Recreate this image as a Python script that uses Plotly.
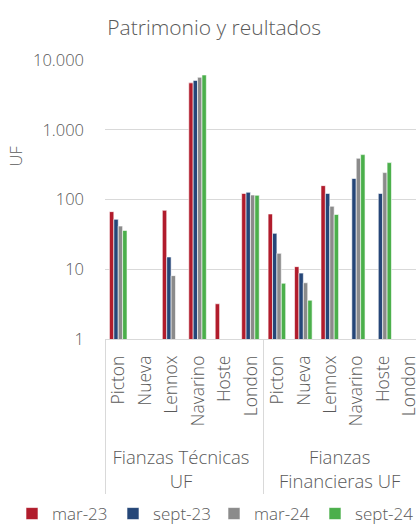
import plotly.graph_objects as go

group_names = ["Fianzas Técnicas<br>UF", "Fianzas<br>Financieras UF"]
item_names = ["Picton", "Nueva", "Lennox", "Navarino", "Hoste", "London"]

mar23 = [67, 0.9, 70, 4700, 3.2, 122, 62, 10.9, 158, None, None, None]
sept23 = [52, 0.9, 15, 5100, None, 127, 32.7, 8.8, 122, 200, 122, None]
mar24 = [41.6, None, 8.1, 5650, None, 116, 16.9, 6.4, 80, 390, 243, None]
sept24 = [36, None, 0.9, 6100, None, 115, 6.3, 3.6, 61, 440, 338, None]

series_names = ["mar-23", "sept-23", "mar-24", "sept-24"]
series_vals = [mar23, sept23, mar24, sept24]
colors = ["#B11C2C", "#254678", "#8B8B8B", "#4BAF4B"]

FONT = "Open Sans"
TXT = "#595959"


def grp_label(s):
    return "<br>".join(f"<span style='font-size:18.5px'>{p}</span>" for p in s.split("<br>"))


def item_label(s):
    return f"<span style='font-size:17.5px'>\u00a0\u00a0{s}</span>"


x_groups = [grp_label(g) for g in group_names for _ in item_names]
x_items = [item_label(i) for _ in group_names for i in item_names]

fig = go.Figure()
for name, vals, col in zip(series_names, series_vals, colors):
    fig.add_trace(go.Bar(
        x=[x_groups, x_items], y=vals, name=name,
        marker=dict(color=col, line=dict(color="white", width=0.6)),
    ))

fig.update_layout(
    width=416, height=532,
    paper_bgcolor="white", plot_bgcolor="white",
    margin=dict(l=105, r=0, t=60, b=193),
    barmode="group", bargap=0.335, bargroupgap=0,
    font=dict(family=FONT, color=TXT, size=16, weight=300),
    title=dict(text="Patrimonio y reultados", x=0.515, xanchor="center",
               yref="container", y=0.948, yanchor="middle",
               font=dict(family=FONT, size=21, color=TXT, weight=300)),
    legend=dict(orientation="h", x=-0.273, xanchor="left",
                y=-0.692, yanchor="bottom",
                font=dict(size=17, color=TXT), entrywidth=56,
                entrywidthmode="pixels", itemclick=False),
    showlegend=True,
)
fig.update_yaxes(type="log", range=[0, 4], tickvals=[1, 10, 100, 1000, 10000],
                 ticktext=["1", "10", "100", "1.000", "10.000"],
                 showgrid=True, gridcolor="#D9D9D9", gridwidth=1,
                 zeroline=False, showline=False, ticks="", automargin=False,
                 ticklabelstandoff=20,
                 tickfont=dict(size=16.5, color=TXT))
fig.update_xaxes(type="multicategory", range=[-0.5, 11.26], automargin=False,
                 tickangle=-90, showline=True, linecolor="#D9D9D9",
                 showdividers=True, dividercolor="#D9D9D9", dividerwidth=1,
                 ticklabelstandoff=8,
                 tickfont=dict(size=19, color=TXT), ticks="")
fig.add_annotation(text="UF", xref="paper", yref="paper", x=-0.289, y=0.655,
                   xanchor="center", yanchor="middle",
                   textangle=-90, showarrow=False,
                   font=dict(size=16.5, color=TXT))

fig.write_html("out.html", config={"displayModeBar": False},
               post_script="document.body.style.margin='0';")
